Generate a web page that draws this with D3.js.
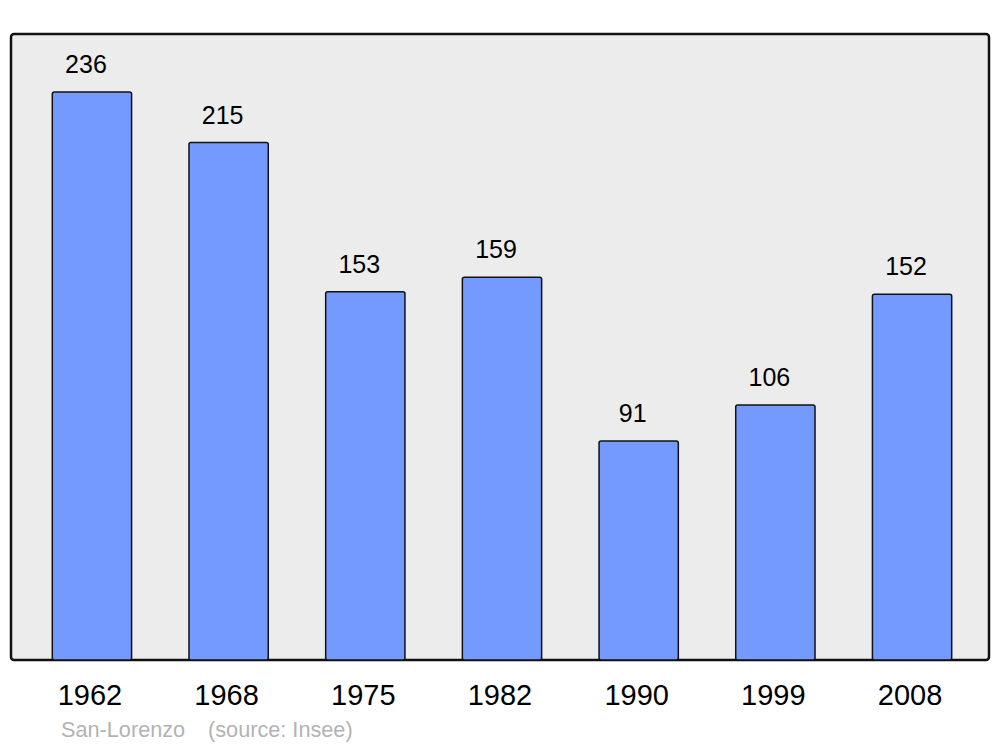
<!DOCTYPE html>
<html><head><meta charset="utf-8">
<script src="https://cdn.jsdelivr.net/npm/d3@7"></script>
<style>body{margin:0;background:#fff}svg{display:block}text{font-family:"Liberation Sans",Arial,sans-serif}</style>
</head><body>
<script>
const years = ["1962","1968","1975","1982","1990","1999","2008"];
const population = [236,215,153,159,91,106,152];
const placeName = "San-Lorenzo";
const sourceNote = "(source: Insee)";

const W = 1000, H = 747;
const svg = d3.select("body").append("svg").attr("width", W).attr("height", H);

const panel = {x0: 11, y0: 34, x1: 989, y1: 660};
svg.append("rect")
  .attr("x", panel.x0).attr("y", panel.y0)
  .attr("width", panel.x1 - panel.x0).attr("height", panel.y1 - panel.y0)
  .attr("rx", 3).attr("fill", "#ececec").attr("stroke", "#111").attr("stroke-width", 2.5);

const x = d3.scaleBand().domain(years).range([23.6, 980.4]).paddingInner(0.42).paddingOuter(0.21);
const y = d3.scaleLinear().domain([0, 236]).range([panel.y1, 92]);

const data = years.map((yr, i) => ({yr, v: population[i]}));

svg.selectAll("rect.bar").data(data).enter().append("rect")
  .attr("class", "bar")
  .attr("x", d => x(d.yr)).attr("y", d => y(d.v))
  .attr("width", x.bandwidth()).attr("height", d => panel.y1 - y(d.v))
  .attr("rx", 2).attr("fill", "#7499ff").attr("stroke", "#111").attr("stroke-width", 1.5);

svg.selectAll("text.val").data(data).enter().append("text")
  .attr("class", "val")
  .attr("x", d => x(d.yr) + x.bandwidth() / 2 - 6)
  .attr("y", d => y(d.v) - 19)
  .attr("text-anchor", "middle").attr("font-size", 25).attr("fill", "#000")
  .text(d => d.v);

svg.selectAll("text.yr").data(data).enter().append("text")
  .attr("class", "yr")
  .attr("x", d => x(d.yr) + x.bandwidth() / 2 - 2)
  .attr("y", 705)
  .attr("text-anchor", "middle").attr("font-size", 29).attr("fill", "#000")
  .text(d => d.yr);

svg.append("text").attr("x", 61).attr("y", 737).attr("font-size", 21.7).attr("fill", "#b3b3b3").text(placeName);
svg.append("text").attr("x", 208).attr("y", 737).attr("font-size", 21.7).attr("fill", "#b3b3b3").text(sourceNote);
</script>
</body></html>
